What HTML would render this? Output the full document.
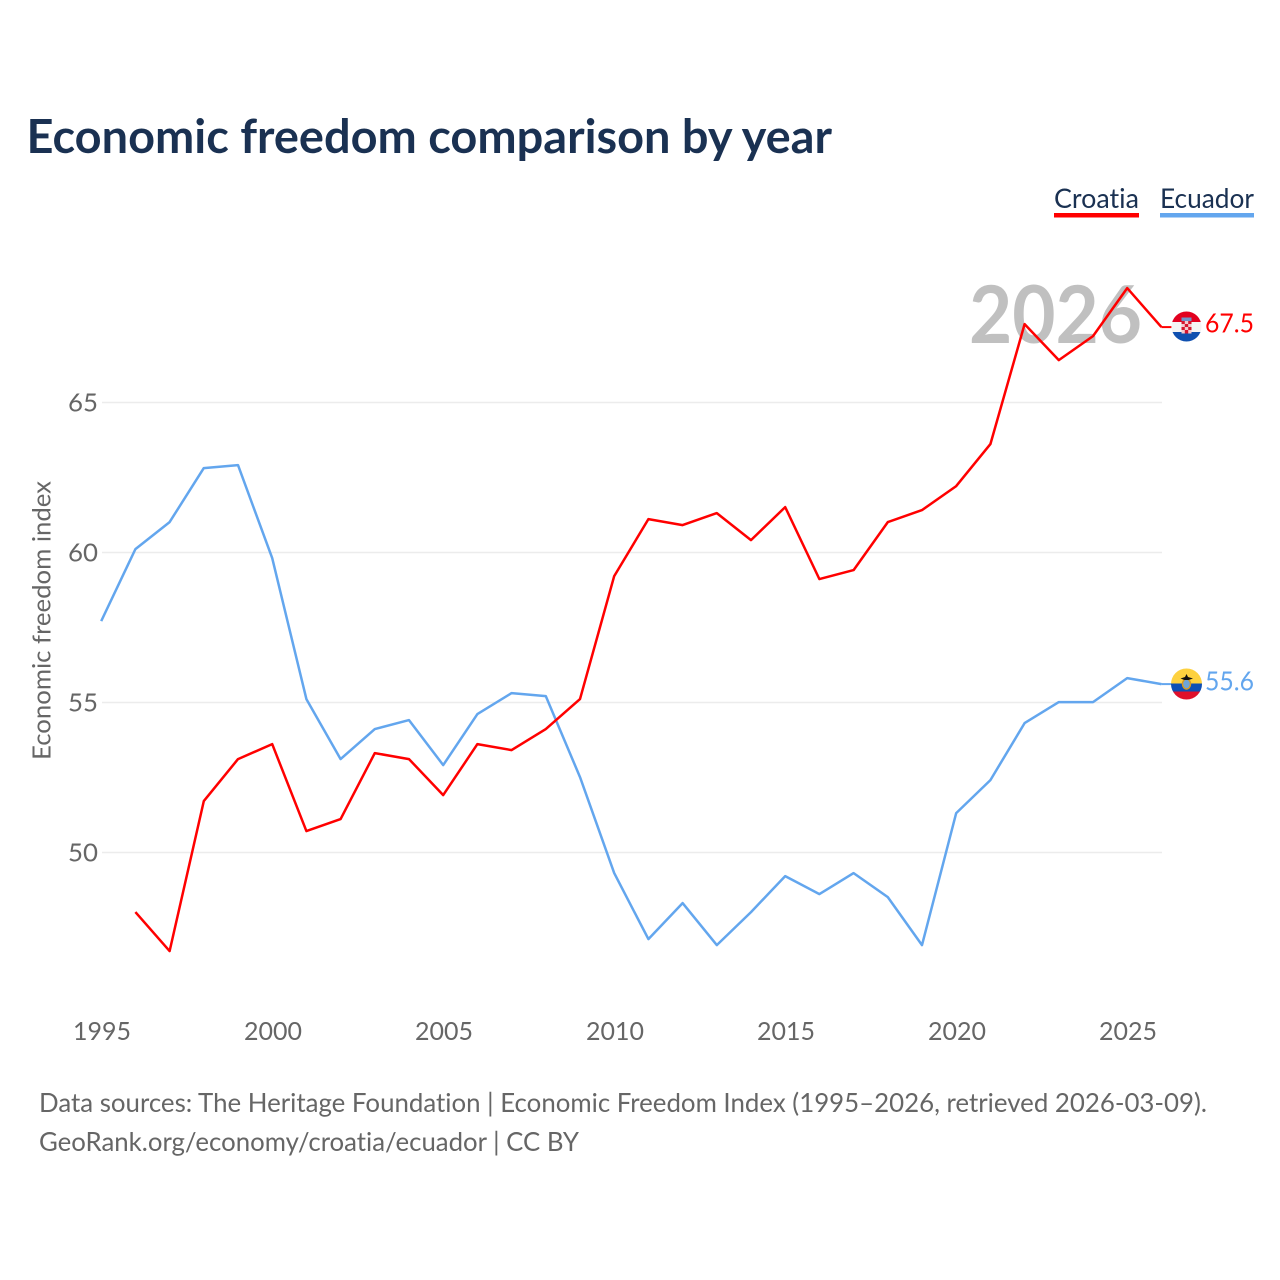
<!DOCTYPE html>
<html lang="en">
<head>
<meta charset="utf-8">
<title>Economic freedom comparison by year</title>
<style>
html,body{margin:0;padding:0;background:#fff;width:1280px;height:1280px;overflow:hidden}
svg{display:block;font-family:"Lato","Carlito","Liberation Sans",sans-serif;font-variant-ligatures:none}
</style>
</head>
<body>
<svg id="chart" xmlns="http://www.w3.org/2000/svg" width="1280" height="1280" viewBox="0 0 1280 1280">
  <defs>
    <clipPath id="flag-clip-hr"><circle cx="1186.5" cy="326.5" r="15"/></clipPath>
    <clipPath id="flag-clip-ec"><circle cx="1186.5" cy="684" r="15.5"/></clipPath>
  </defs>
  <rect width="1280" height="1280" fill="#fff"/>
  <text x="26.5" y="153" font-size="46.5" font-weight="700" fill="#1a3152" textLength="805.5" lengthAdjust="spacingAndGlyphs">Economic freedom comparison by year</text>

  <g>
    <g>
      <text x="1054" y="208" font-size="27.5" fill="#1a3152" textLength="85" lengthAdjust="spacingAndGlyphs">Croatia</text>
      <rect x="1054" y="213" width="85" height="4.5" fill="#ff0000"/>
    </g>
    <g>
      <text x="1160" y="208" font-size="27.5" fill="#1a3152" textLength="94" lengthAdjust="spacingAndGlyphs">Ecuador</text>
      <rect x="1160" y="213" width="94" height="4.5" fill="#63a6ee"/>
    </g>
  </g>

  <text transform="translate(50.5,760) rotate(-90)" font-size="25.5" fill="#666" textLength="279" lengthAdjust="spacingAndGlyphs">Economic freedom index</text>
  <g id="y-axis"></g>
  <g id="x-axis"></g>

  <text x="1142" y="343" text-anchor="end" font-size="80" font-weight="700" fill="#a8a8a8" fill-opacity="0.72" textLength="173" lengthAdjust="spacingAndGlyphs">2026</text>

  <g id="series"></g>

  <g>
    <g clip-path="url(#flag-clip-hr)">
      <rect x="1171" y="311" width="31" height="11" fill="#e2001f"/>
      <rect x="1171" y="322" width="31" height="10" fill="#f4f4f4"/>
      <rect x="1171" y="332" width="31" height="11" fill="#0f50b0"/>
      <rect x="1181.5" y="321" width="10" height="12.5" fill="#f3c9cd"/>
      <rect x="1181.5" y="321" width="3.3" height="3" fill="#d5162e"/>
      <rect x="1188.2" y="321" width="3.3" height="3" fill="#d5162e"/>
      <rect x="1184.8" y="324" width="3.4" height="3" fill="#d5162e"/>
      <rect x="1181.5" y="327" width="3.3" height="3" fill="#d5162e"/>
      <rect x="1188.2" y="327" width="3.3" height="3" fill="#d5162e"/>
      <rect x="1184.8" y="330" width="3.4" height="3.5" fill="#d5162e"/>
      <rect x="1181.5" y="317.5" width="10" height="3.5" fill="#6f93c9"/>
    </g>
    <text x="1205" y="332.5" font-size="26.5" fill="#ff0000" textLength="49" lengthAdjust="spacingAndGlyphs">67.5</text>
  </g>
  <g>
    <g clip-path="url(#flag-clip-ec)">
      <rect x="1171" y="668" width="31" height="15.5" fill="#fdd13f"/>
      <rect x="1171" y="683.5" width="31" height="8" fill="#0d4fb5"/>
      <rect x="1171" y="691.5" width="31" height="9" fill="#e0102b"/>
      <ellipse cx="1186.5" cy="684" rx="4" ry="5" fill="#6ea5d8" stroke="#d69a22" stroke-width="1.5"/>
      <path d="M1186.5 674 L1188 677 L1193 678.5 L1188.5 680 L1184.5 680 L1180.5 678.5 L1185 677 Z" fill="#111"/>
    </g>
    <text x="1205" y="690.5" font-size="26.5" fill="#63a6ee" textLength="49" lengthAdjust="spacingAndGlyphs">55.6</text>
  </g>

  <text x="39" y="1112" font-size="26.5" fill="#666" textLength="1168" lengthAdjust="spacingAndGlyphs">Data sources: The Heritage Foundation | Economic Freedom Index (1995–2026, retrieved 2026-03-09).</text>
  <text x="39" y="1151" font-size="26.5" fill="#666" textLength="540" lengthAdjust="spacingAndGlyphs">GeoRank.org/economy/croatia/ecuador | CC BY</text>
</svg>
<script>
const years = [1995,1996,1997,1998,1999,2000,2001,2002,2003,2004,2005,2006,2007,2008,2009,2010,2011,2012,2013,2014,2015,2016,2017,2018,2019,2020,2021,2022,2023,2024,2025,2026];
const croatiaValues = [null,48.0,46.7,51.7,53.1,53.6,50.7,51.1,53.3,53.1,51.9,53.6,53.4,54.1,55.1,59.2,61.1,60.9,61.3,60.4,61.5,59.1,59.4,61.0,61.4,62.2,63.6,67.6,66.4,67.2,68.8,67.5];
const ecuadorValues = [57.7,60.1,61.0,62.8,62.9,59.8,55.1,53.1,54.1,54.4,52.9,54.6,55.3,55.2,52.5,49.3,47.1,48.3,46.9,48.0,49.2,48.6,49.3,48.5,46.9,51.3,52.4,54.3,55.0,55.0,55.8,55.6];
const yTicks = [50,55,60,65];
const xTicks = [1995,2000,2005,2010,2015,2020,2025];

const NS = 'http://www.w3.org/2000/svg';
const xScale = function (year) { return 101.2 + (year - 1995) * 34.2; };
const yScale = function (value) { return 852.5 - (value - 50) * 30; };
const make = function (tag, attrs) {
  const el = document.createElementNS(NS, tag);
  Object.keys(attrs).forEach(function (k) { el.setAttribute(k, attrs[k]); });
  return el;
};

const yAxis = document.getElementById('y-axis');
yTicks.forEach(function (tick) {
  const y = yScale(tick);
  const grid = make('line', { x1: 102, x2: 1162, y1: y, y2: y, stroke: '#ececec', 'stroke-width': 1.5 });
  
  
  yAxis.appendChild(grid);
  const label = make('text', { x: 98, y: y + 9, 'text-anchor': 'end', 'font-size': 25.5, fill: '#666', textLength: 30, lengthAdjust: 'spacingAndGlyphs' });
  
  
  label.textContent = tick;
  yAxis.appendChild(label);
});

const xAxis = document.getElementById('x-axis');
xTicks.forEach(function (tick) {
  const label = make('text', { x: xScale(tick) + 0.8, y: 1040, 'text-anchor': 'middle', 'font-size': 25.5, fill: '#666', textLength: 58, lengthAdjust: 'spacingAndGlyphs' });
  
  
  label.textContent = tick;
  xAxis.appendChild(label);
});

const buildPoints = function (values) {
  const pts = [];
  values.forEach(function (v, i) {
    if (v !== null) { pts.push(xScale(years[i]).toFixed(1) + ',' + (yScale(v) - 0.4).toFixed(1)); }
  });
  return pts;
};
const seriesGroup = document.getElementById('series');

const ecuadorLine = make('polyline', { fill: 'none', stroke: '#63a6ee', 'stroke-width': 2.5, 'stroke-linejoin': 'round', points: buildPoints(ecuadorValues).join(' ') });


seriesGroup.appendChild(ecuadorLine);

const croatiaLine = make('polyline', { fill: 'none', stroke: '#ff0000', 'stroke-width': 2.5, 'stroke-linejoin': 'round', points: buildPoints(croatiaValues).join(' ') });


seriesGroup.appendChild(croatiaLine);

const lastIndex = years.length - 1;
const ecuadorStub = make('line', { x1: xScale(years[lastIndex]), x2: xScale(years[lastIndex]) + 10, y1: yScale(ecuadorValues[lastIndex]) - 0.4, y2: yScale(ecuadorValues[lastIndex]) - 0.4, stroke: '#63a6ee', 'stroke-width': 2 });


seriesGroup.appendChild(ecuadorStub);

const croatiaStub = make('line', { x1: xScale(years[lastIndex]), x2: xScale(years[lastIndex]) + 10, y1: yScale(croatiaValues[lastIndex]) - 0.4, y2: yScale(croatiaValues[lastIndex]) - 0.4, stroke: '#ff0000', 'stroke-width': 2 });


seriesGroup.appendChild(croatiaStub);
</script>
</body>
</html>
